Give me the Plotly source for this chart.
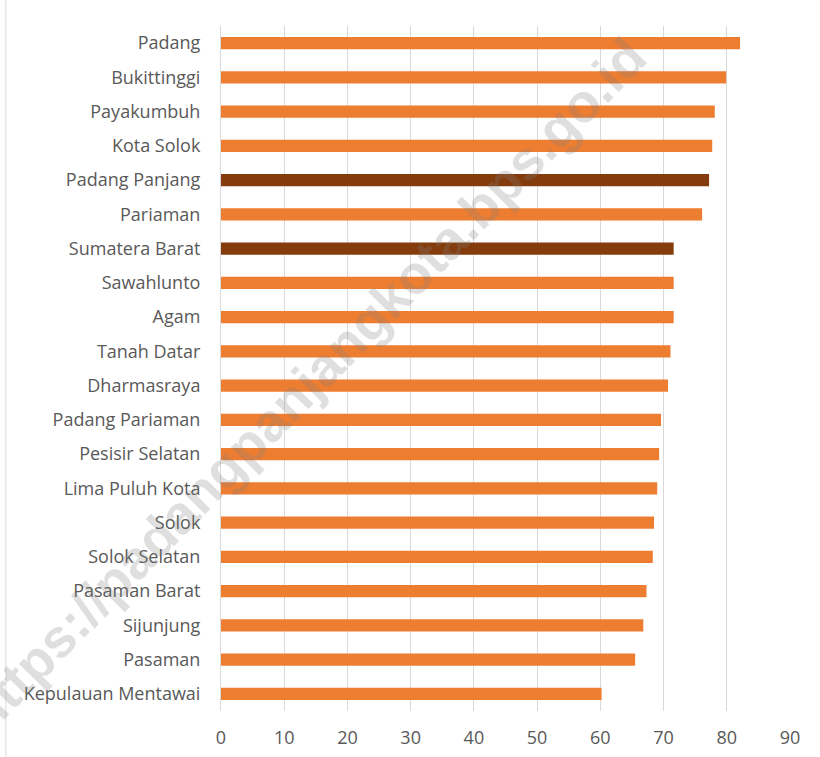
import plotly.graph_objects as go

# Regions ordered top to bottom as displayed
regions = [
    "Padang", "Bukittinggi", "Payakumbuh", "Kota Solok", "Padang Panjang",
    "Pariaman", "Sumatera Barat", "Sawahlunto", "Agam", "Tanah Datar",
    "Dharmasraya", "Padang Pariaman", "Pesisir Selatan", "Lima Puluh Kota",
    "Solok", "Solok Selatan", "Pasaman Barat", "Sijunjung", "Pasaman",
    "Kepulauan Mentawai",
]
values = [
    82.1, 79.9, 78.1, 77.7, 77.2,
    76.1, 71.6, 71.6, 71.6, 71.1,
    70.7, 69.6, 69.3, 69.0,
    68.5, 68.3, 67.3, 66.8, 65.5,
    60.2,
]
highlighted = {"Padang Panjang", "Sumatera Barat"}
x_ticks = [0, 10, 20, 30, 40, 50, 60, 70, 80, 90]

ORANGE = "#ED7D31"
BROWN = "#843C0C"
colors = [BROWN if r in highlighted else ORANGE for r in regions]

fig = go.Figure(
    go.Bar(
        x=values,
        y=regions,
        orientation="h",
        marker=dict(color=colors, line=dict(width=0)),
        width=0.36,
    )
)

fig.update_layout(
    width=820,
    height=757,
    margin=dict(l=221, r=30, t=26, b=46),
    paper_bgcolor="white",
    plot_bgcolor="white",
    showlegend=False,
    font=dict(family="Open Sans, Noto Sans, sans-serif", color="#595959"),
)

fig.update_xaxes(
    range=[0, 90],
    tickvals=x_ticks,
    showgrid=True,
    gridcolor="#D9D9D9",
    gridwidth=1,
    zeroline=False,
    showline=False,
    tickfont=dict(size=18, color="#595959"),
    ticks="",
    ticklabelstandoff=14,
    automargin=False,
    fixedrange=True,
)

fig.update_yaxes(
    categoryorder="array",
    categoryarray=regions[::-1],
    showgrid=False,
    showline=True,
    linecolor="#D9D9D9",
    linewidth=1,
    ticks="",
    tickfont=dict(size=18, color="#595959"),
    ticklabelstandoff=16,
    automargin=False,
    fixedrange=True,
)

# outer chart border on the left
fig.add_shape(
    type="line", xref="paper", yref="paper",
    x0=-0.378, x1=-0.378, y0=-0.2, y1=1.1,
    line=dict(color="#D9D9D9", width=1),
)

# watermark
fig.add_annotation(
    text="<b>https://padangpanjangkota.bps.go.id</b>",
    xref="paper", yref="paper",
    x=0.148, y=0.476,
    xanchor="center", yanchor="middle",
    showarrow=False,
    textangle=-45.6,
    font=dict(size=54, color="rgba(128,128,128,0.25)",
              family="Liberation Sans, Arial, sans-serif"),
)

fig.write_html("out.html")
